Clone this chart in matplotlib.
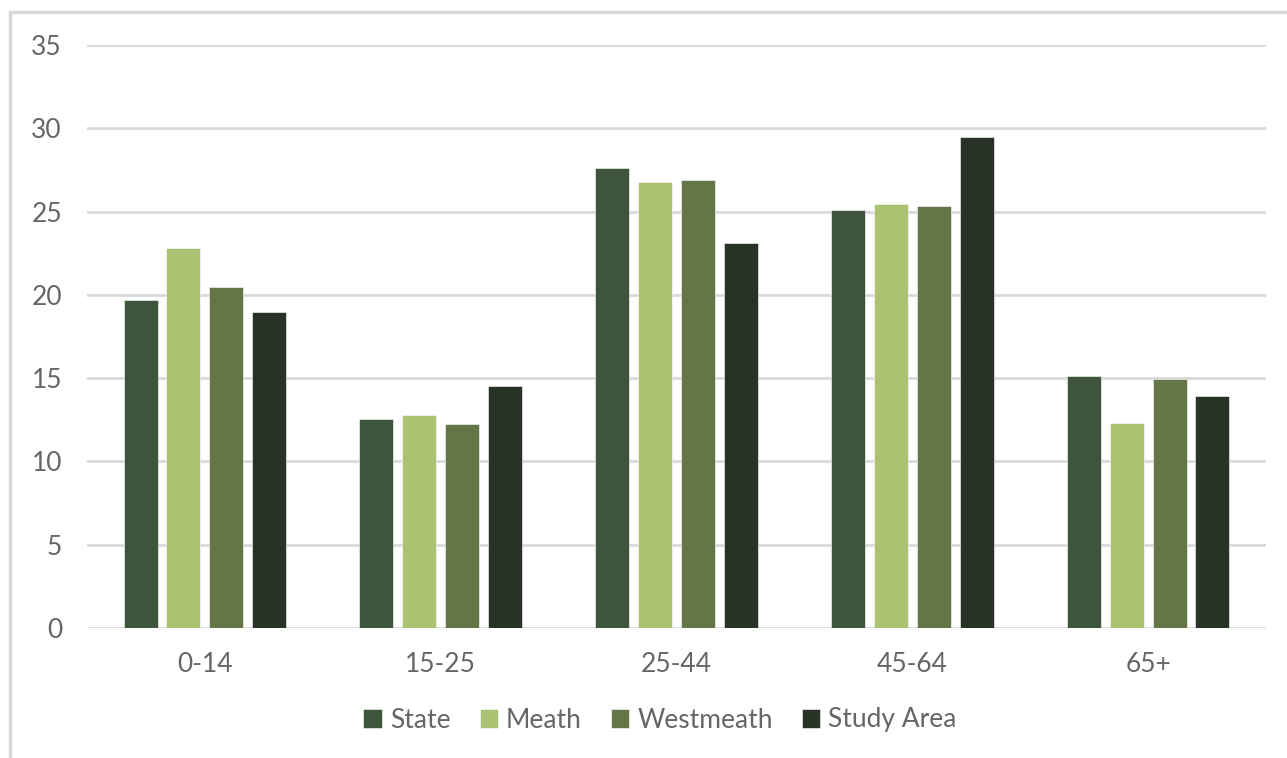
import matplotlib
matplotlib.use("Agg")
import matplotlib.pyplot as plt
import numpy as np
from matplotlib.patches import Rectangle

categories = ["0-14", "15-25", "25-44", "45-64", "65+"]
series_names = ["State", "Meath", "Westmeath", "Study Area"]
state = [19.7, 12.55, 27.6, 25.1, 15.1]
meath = [22.8, 12.8, 26.8, 25.45, 12.3]
westmeath = [20.5, 12.25, 26.9, 25.35, 14.95]
study_area = [19.0, 14.5, 23.1, 29.5, 13.9]
colors = ["#3c553b", "#aac271", "#647546", "#283226"]

plt.rcParams["font.family"] = ["Lato", "DejaVu Sans"]

fig = plt.figure(figsize=(12.87, 7.58), dpi=100)
fig.patch.set_facecolor("white")

# outer chart frame
fig.patches.append(Rectangle((10 / 1287, -0.05), 1.1, (758 - 12) / 758 + 0.05,
                             transform=fig.transFigure, fill=False,
                             edgecolor="#d9d9d9", linewidth=2.5, zorder=0))

ax = fig.add_axes([87 / 1287, (758 - 628) / 758, (1266 - 87) / 1287, (628 - 45) / 758])

x = np.arange(len(categories))
step = 0.182
width = 0.144
all_series = [state, meath, westmeath, study_area]
for i, (vals, name, c) in enumerate(zip(all_series, series_names, colors)):
    offs = (i - 1.5) * step
    ax.bar(x + offs, vals, width=width, color=c, label=name, zorder=3,
           edgecolor="#ffffff", linewidth=0.4)

ax.set_xlim(-0.5, len(categories) - 0.5)
ax.set_ylim(0, 35)
ax.set_yticks(range(0, 36, 5))
ax.set_xticks(x)
ax.set_xticklabels(categories)
ax.yaxis.grid(True, color="#d9d9d9", linewidth=2, zorder=0)
ax.set_axisbelow(True)
for s in ax.spines.values():
    s.set_visible(False)
ax.tick_params(axis="both", length=0, colors="#666666", labelsize=19)
ax.tick_params(axis="y", pad=18)
ax.tick_params(axis="x", pad=17)

leg = fig.legend(loc="center", bbox_to_anchor=(660 / 1287, 1 - 720 / 758), ncol=4,
                 frameon=False, fontsize=19, handlelength=0.7, handleheight=0.7,
                 handletextpad=0.3, columnspacing=1.1, labelcolor="#666666")

fig.savefig("out.png", dpi=100, facecolor="white")
